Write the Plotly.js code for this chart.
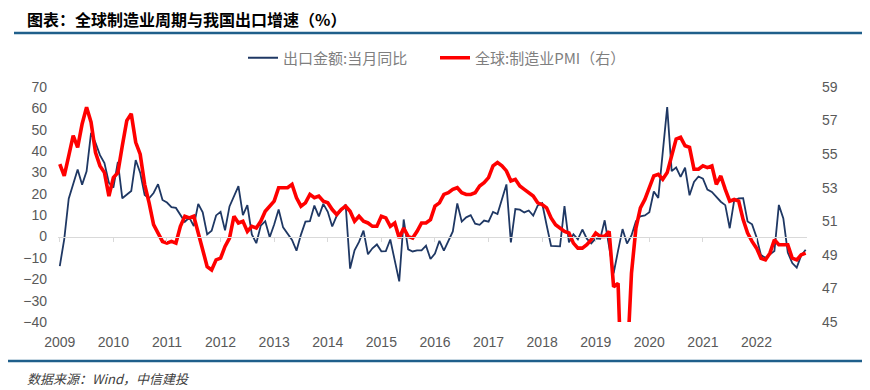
<!DOCTYPE html>
<html>
<head>
<meta charset="utf-8">
<script src="https://cdn.plot.ly/plotly-3.0.1.min.js"></script>
<style>
  html, body { margin: 0; padding: 0; background: #ffffff; }
  #chart { width: 870px; height: 390px; }
</style>
</head>
<body>
<div id="chart"></div>
<script>
// ---------- data ----------
// monthly categories: Oct 2009 .. Sep 2023
const startYear = 2009;
const startMonth = 10;
const monthCount = 168;
const yearLabels = ['2009','2010','2011','2012','2013','2014','2015','2016','2017','2018','2019','2020','2021','2022'];

// 出口金额:当月同比 (%), January missing where only Jan-Feb combined was published
const exportYoY = [
  -13.8, -1.2, 17.7,
  null, 31.4, 24.3, 30.5, 48.5, 43.9, 38.1, 34.4, 25.1, 22.9, 34.9, 17.9,
  null, 21.3, 35.8, 29.9, 19.4, 17.9, 20.4, 24.5, 17.1, 15.9, 13.8, 13.4,
  null, 6.9, 8.9, 4.9, 15.3, 11.3, 1.0, 2.7, 9.9, 11.6, 2.9, 14.1,
  null, 23.6, 10.0, 14.7, 1.0, -3.1, 5.1, 7.2, -0.3, 5.6, 12.7, 4.3,
  null, -1.6, -6.6, 0.9, 7.0, 7.2, 14.5, 9.4, 15.3, 11.6, 4.7, 9.7,
  null, 15.0, -15.0, -6.4, -2.5, 2.8, -8.3, -5.5, -3.7, -6.9, -6.8, -1.4,
  -11.0, -21.0, 8.0, -6.0, -7.0, -6.5, -6.5, -4.3, -10.5, -8.0, -2.0, -6.6,
  null, 2.4, 15.5, 7.0, 9.0, 10.0, 6.0, 5.5, 7.5, 7.0, 11.5, 10.5,
  null, 24.4, -2.7, 12.9, 12.6, 11.3, 12.2, 9.8, 14.5, 15.6, 5.4, -4.4,
  null, -4.6, 14.2, -2.7, 1.1, -1.3, 3.3, -1.0, -3.2, -0.9, -1.1, 7.6,
  null, -17.2, -6.6, 3.5, -3.3, 0.5, 7.2, 9.5, 9.9, 11.4, 21.1, 18.1,
  null, 60.6, 30.6, 32.3, 27.9, 32.2, 19.3, 25.6, 28.1, 27.1, 22.0, 20.9,
  null, 16.3, 14.7, 3.9, 16.9, 17.9, 18.0, 7.1, 5.7, -0.3, -8.7, -9.9,
  null, -6.8, 14.8, 8.5, -7.5, -12.4, -14.5, -8.8, -6.2
];

// 全球:制造业PMI (right axis)
const globalPMI = [
  54.4, 53.7, 54.9, 56.1, 55.4, 56.8, 57.8, 56.9, 55.1, 54.3, 53.9, 52.5,
  53.6, 53.9, 55.5, 57.0, 57.4, 55.7, 55.0, 53.2, 52.1, 50.8, 50.3, 49.8,
  49.7, 49.8, 49.7, 50.7, 51.3, 51.2, 51.3, 50.3, 49.1, 48.3, 48.1, 48.7,
  48.8, 49.5, 50.0, 51.3, 50.9, 51.0, 50.4, 50.7, 50.6, 51.0, 51.6, 51.9,
  52.2, 53.0, 53.0, 53.0, 53.2, 52.4, 51.9, 52.1, 52.6, 52.4, 52.5, 52.2,
  52.1, 51.7, 51.4, 51.7, 51.9, 51.6, 51.0, 51.3, 51.0, 50.9, 50.7, 50.7,
  51.3, 51.2, 50.7, 50.9, 50.0, 50.6, 50.1, 50.0, 50.4, 50.9, 50.9, 51.1,
  51.9, 52.1, 52.6, 52.7, 52.9, 53.0, 52.7, 52.6, 52.6, 52.7, 53.1, 53.3,
  53.6, 54.3, 54.5, 54.3, 54.0, 53.4, 53.5, 53.1, 52.9, 52.7, 52.5, 52.1,
  52.0, 51.8, 51.2, 50.8, 50.6, 50.4, 50.3, 49.7, 49.4, 49.4, 49.6, 49.9,
  50.3, 50.1, 50.1, 50.4, 47.1, 47.3, 39.6, 42.4, 47.9, 50.6, 51.8, 52.3,
  53.0, 53.7, 53.8, 53.5, 53.9, 55.0, 55.9, 56.0, 55.5, 55.4, 54.1, 54.1,
  54.3, 54.2, 54.3, 53.2, 53.7, 52.9, 52.2, 52.3, 52.2, 51.1, 50.3, 49.8,
  49.4, 48.8, 48.7, 49.1, 49.9, 49.6, 49.6, 49.6, 48.8, 48.7, 49.0, 49.1
];

const leftTicks = [-40, -30, -20, -10, 0, 10, 20, 30, 40, 50, 60, 70];
const rightTicks = [45, 47, 49, 51, 53, 55, 57, 59];

// ---------- categories ----------
const months = [];
for (let k = 0; k < monthCount; k++) {
  const m0 = startMonth - 1 + k;
  const y = startYear + Math.floor(m0 / 12);
  const m = (m0 % 12) + 1;
  months.push(y + '-' + (m < 10 ? '0' + m : '' + m));
}
const yearTickVals = yearLabels.map((_, i) => months[i * 12]);

// ---------- geometry helpers (pixels -> paper) ----------
const W = 870, H = 390;
const M = { l: 58, r: 63, t: 87, b: 68 };
const PW = W - M.l - M.r, PH = H - M.t - M.b;
const px = x => (x - M.l) / PW;
const py = y => (H - M.b - y) / PH;

const tickFont = { family: 'Liberation Sans, Arial, sans-serif', size: 14, color: '#595959' };
const cjk = 'Noto Sans CJK SC, sans-serif';
const xRange = [-0.4, 167.3];

const traces = [
  {
    type: 'scatter', mode: 'lines', name: '出口金额:当月同比',
    x: months, y: exportYoY, connectgaps: true,
    xaxis: 'x', yaxis: 'y',
    line: { color: '#1f3864', width: 1.8 },
    hoverinfo: 'skip'
  },
  {
    type: 'scatter', mode: 'lines', name: '全球:制造业PMI（右）',
    x: months, y: globalPMI,
    xaxis: 'x2', yaxis: 'y2',
    line: { color: '#ff0000', width: 3.6 },
    hoverinfo: 'skip'
  }
];

const layout = {
  width: W, height: H,
  margin: M,
  paper_bgcolor: '#ffffff', plot_bgcolor: '#ffffff',
  showlegend: true,
  legend: {
    orientation: 'h', x: px(243), xanchor: 'left', y: py(58), yanchor: 'middle',
    font: { family: cjk, size: 15, color: '#7f7f7f' },
    entrywidth: 147, entrywidthmode: 'pixels',
    bgcolor: 'rgba(0,0,0,0)'
  },
  xaxis: {
    type: 'category', categoryorder: 'array', categoryarray: months,
    range: xRange, tickvals: yearTickVals, ticktext: yearLabels,
    showgrid: false, zeroline: false, showline: false, ticks: '',
    tickfont: tickFont, ticklabelstandoff: 10, fixedrange: true
  },
  xaxis2: {
    type: 'category', categoryorder: 'array', categoryarray: months,
    overlaying: 'x', anchor: 'free', position: 40 / 110,
    range: xRange, tickvals: yearTickVals, showticklabels: false,
    showgrid: false, zeroline: false,
    showline: true, linecolor: '#d9d9d9', linewidth: 1,
    ticks: 'outside', ticklen: 4, tickcolor: '#d9d9d9', tickwidth: 1
  },
  yaxis: {
    range: [-40, 70], tickvals: leftTicks,
    showgrid: false, zeroline: false, showline: false, ticks: '',
    tickfont: tickFont, ticklabelstandoff: 10
  },
  yaxis2: {
    overlaying: 'y', side: 'right', anchor: 'x',
    range: [45, 59], tickvals: rightTicks,
    showgrid: false, zeroline: false, showline: false, ticks: '',
    tickfont: tickFont, ticklabelstandoff: 14
  },
  annotations: [
    {
      xref: 'paper', yref: 'paper', x: px(25), y: py(19), xanchor: 'left', yanchor: 'middle',
      text: '<b>图表：全球制造业周期与我国出口增速（%）</b>', showarrow: false,
      font: { family: cjk, size: 16, color: '#000000' }
    },
    {
      xref: 'paper', yref: 'paper', x: px(25), y: py(378), xanchor: 'left', yanchor: 'middle',
      text: '<i>数据来源：Wind，中信建投</i>', showarrow: false,
      font: { family: cjk, size: 13, color: '#404040' }
    }
  ],
  shapes: [
    { type: 'line', xref: 'paper', yref: 'paper', x0: px(14), x1: px(862), y0: py(33), y1: py(33),
      line: { color: '#1f5f8b', width: 2.5 } },
    { type: 'line', xref: 'paper', yref: 'paper', x0: px(8), x1: px(862), y0: py(361), y1: py(361),
      line: { color: '#1f5f8b', width: 2.5 } }
  ]
};

Plotly.newPlot('chart', traces, layout, { staticPlot: true, displayModeBar: false });
</script>
</body>
</html>
